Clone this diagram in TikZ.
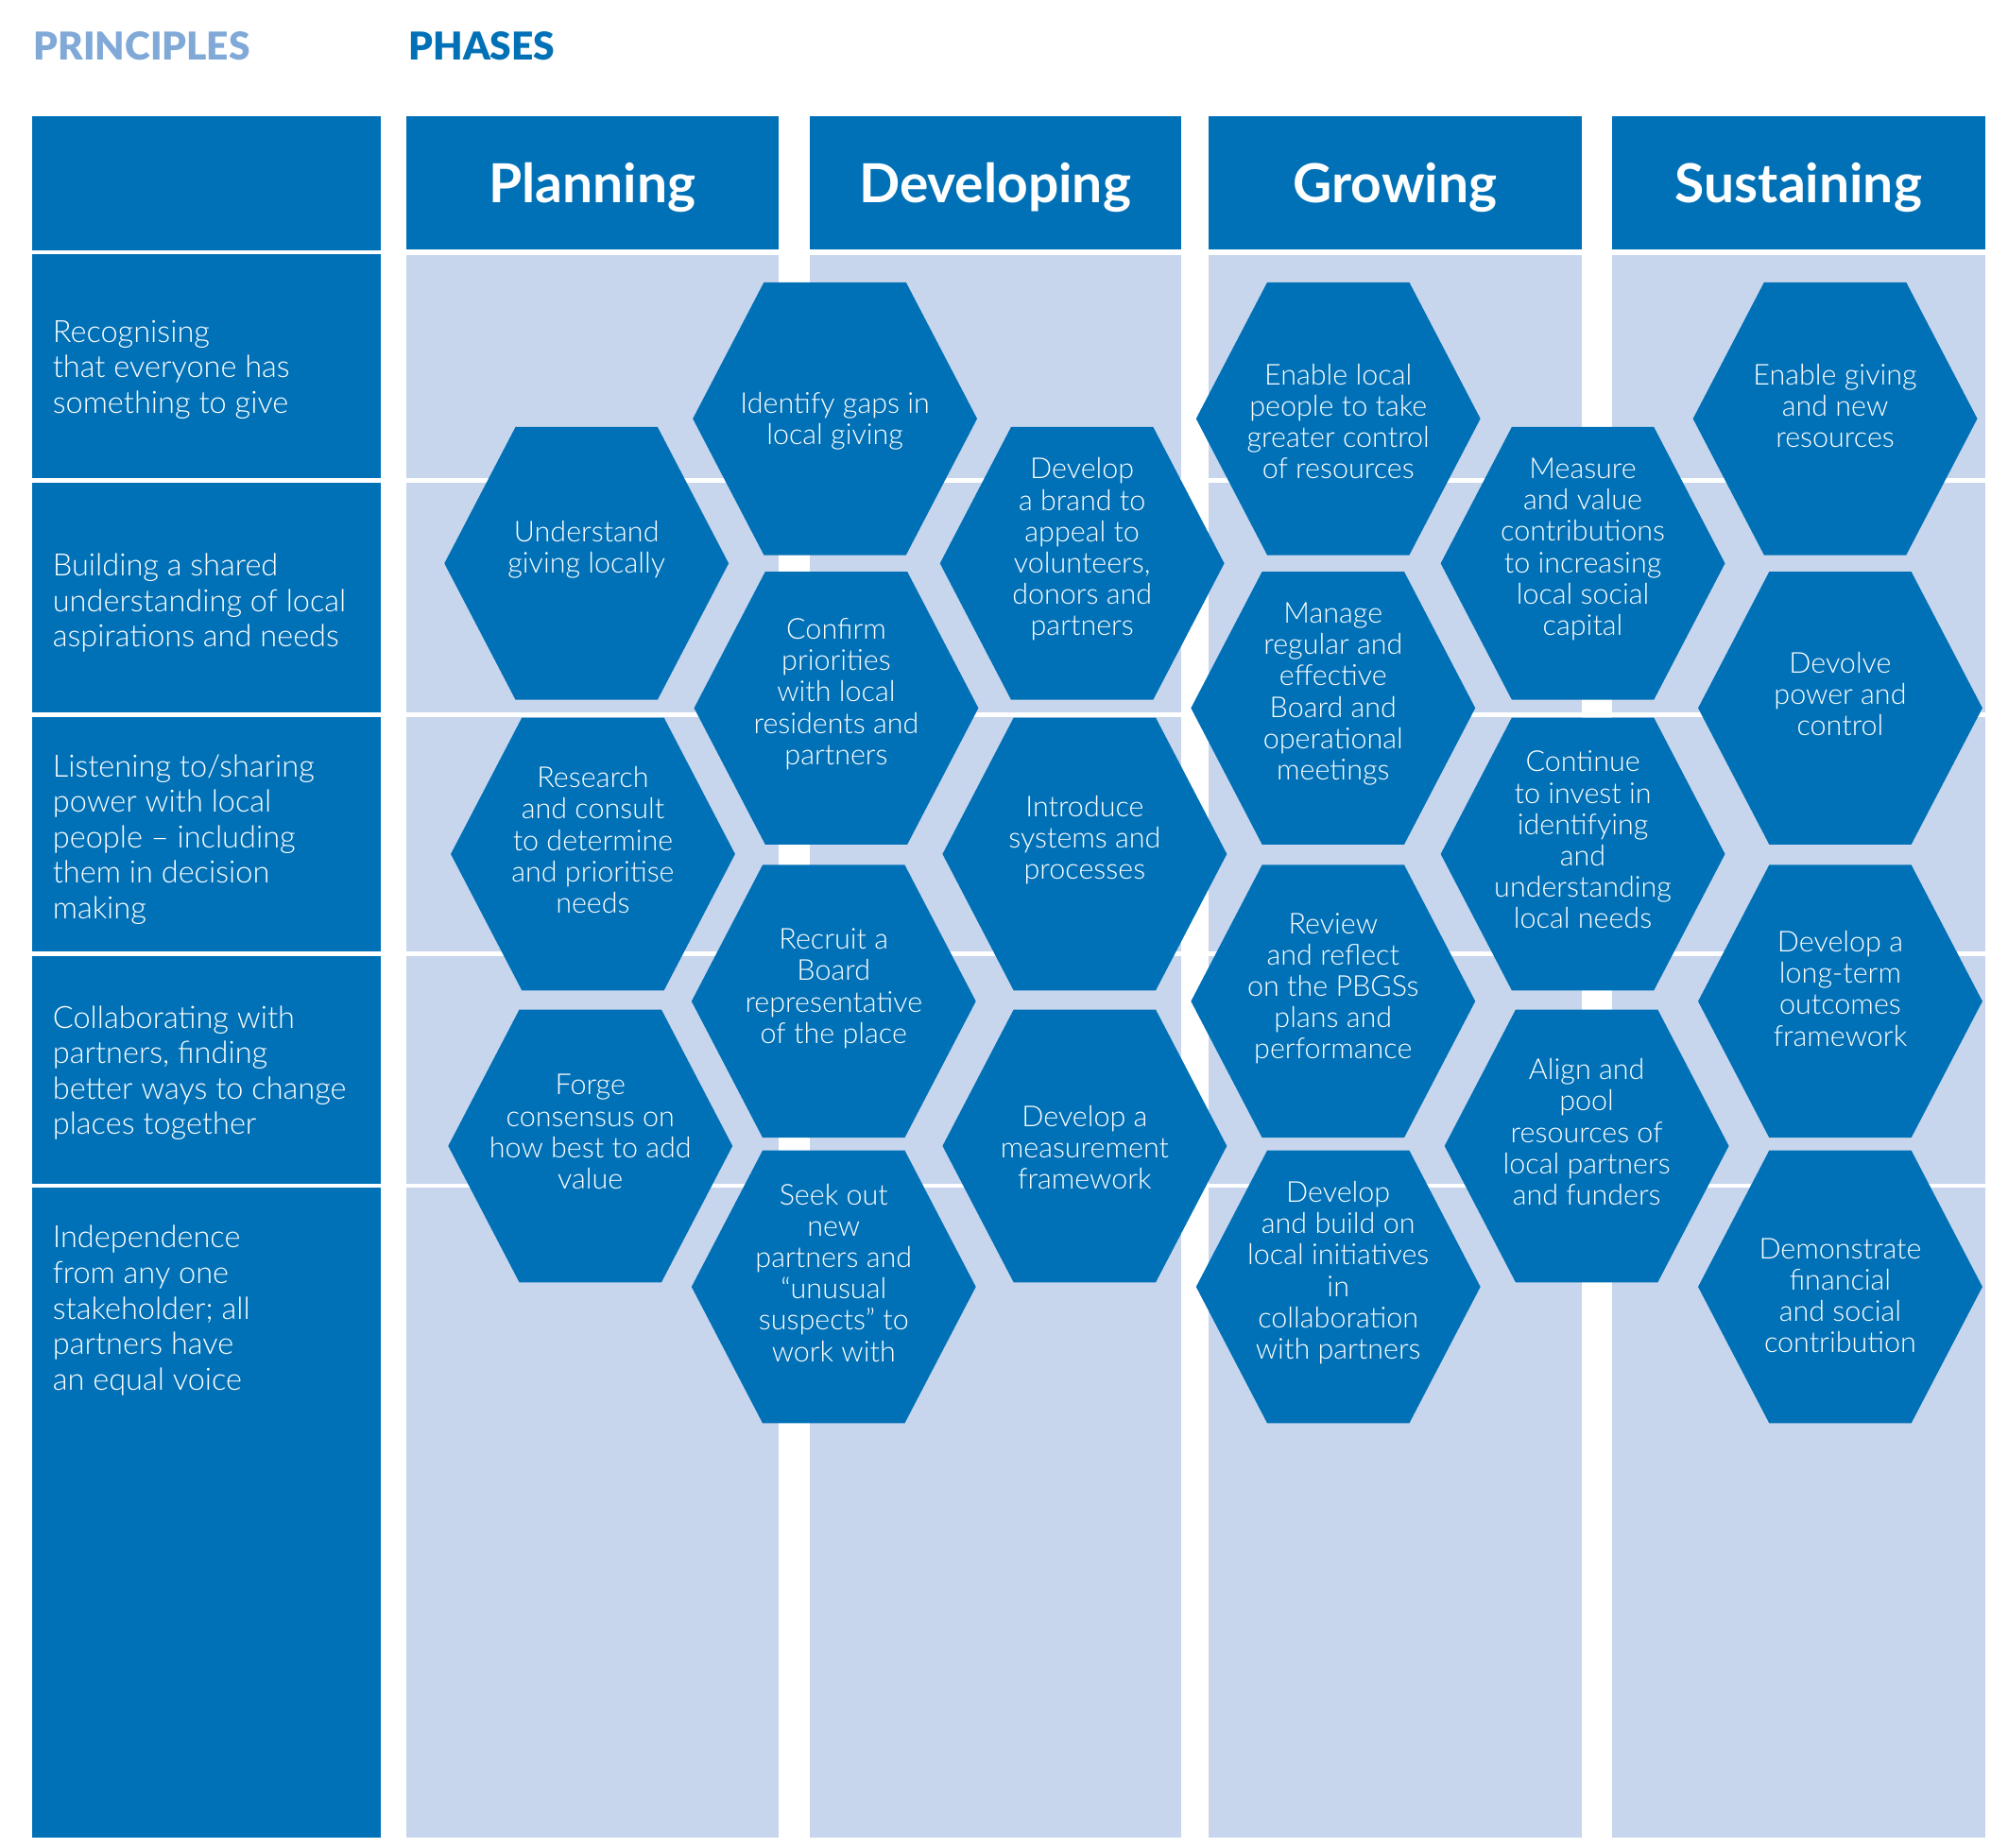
\documentclass[tikz,border=0pt]{standalone}
\usepackage{fontspec}
\setmainfont{Lato}
\newfontfamily\lightfont{Lato Light}
\newfontfamily\blackfont{Lato Black}
\usepackage{tikz}
\usetikzlibrary{positioning}
\definecolor{hexblue}{RGB}{1,113,183}
\definecolor{bandblue}{RGB}{199,214,236}
\definecolor{paleblue}{RGB}{129,169,216}
\tikzset{
  pics/hexcell/.style={code={\fill[hexblue] (-111,0) -- (-55.5,-106.5) -- (55.5,-106.5) -- (111,0) -- (55.5,106.5) -- (-55.5,106.5) -- cycle;}}
}

\begin{document}
\begin{tikzpicture}[x=1pt,y=-1pt,every node/.style={inner sep=0pt,text=white},
  hextext/.style={align=center,font=\lightfont\fontsize{22.5}{24.5}\selectfont},
  principle/.style={anchor=west,align=left,font=\lightfont\fontsize{24}{27.7}\selectfont},
  phasehead/.style={fill=hexblue,minimum width=291pt,minimum height=104pt,text height=30pt,text depth=0pt,font=\bfseries\fontsize{42}{50}\selectfont},
  title/.style={anchor=base west,font=\blackfont\fontsize{30}{36}\selectfont}]
\useasboundingbox (0,0) rectangle (1568,1443);
% titles
\node[title,text=paleblue] (principles) at (26,47) {PRINCIPLES};
\node[title,text=hexblue] (phases) at (319,47) {PHASES};
% columns
\fill[hexblue] (25,91) rectangle (297,1435);
\fill[bandblue] (317,199) rectangle (608,1435);
\fill[bandblue] (632,199) rectangle (922,1435);
\fill[bandblue] (944,199) rectangle (1235,1435);
\fill[bandblue] (1259,199) rectangle (1550,1435);
\node[phasehead] (planning) at (462.5,143) {Planning};
\node[phasehead,minimum width=290pt] (developing) at (777,143) {Developing};
\node[phasehead] (growing) at (1089.5,143) {Growing};
\node[phasehead] (sustaining) at (1404.5,143) {Sustaining};
% row separators
\draw[white,line width=3.5pt] (25,197) -- (1550,197);
\draw[white,line width=3.5pt] (25,375) -- (1550,375);
\draw[white,line width=3.5pt] (25,558) -- (1550,558);
\draw[white,line width=3.5pt] (25,745) -- (1550,745);
\draw[white,line width=3.5pt] (25,926) -- (1550,926);
% principles
\node[principle] (recognising) at (41,288.5) {Recognising\\that everyone has\\something to give};
\node[principle] (shared) at (41,471) {Building a shared\\understanding of local\\aspirations and needs};
\node[principle] (listening) at (41,655.5) {Listening to/sharing\\power with local\\people – including\\them in decision\\making};
\node[principle] (collaborating) at (41,838) {Collaborating with\\partners, finding\\better ways to change\\places together};
\node[principle] (independence) at (41,1023.5) {Independence\\from any one\\stakeholder; all\\partners have\\an equal voice};
% planning
\pic at (458,440) {hexcell};
\node[hextext] (understand) at (458,429) {Understand\\giving locally};
\pic at (463,667) {hexcell};
\node[hextext] (research) at (463,656) {Research\\and consult\\to determine\\and prioritise\\needs};
\pic at (461,895) {hexcell};
\node[hextext] (forge) at (461,884) {Forge\\consensus on\\how best to add\\value};
% planning / developing
\pic at (652,327) {hexcell};
\node[hextext] (gaps) at (652,329) {Identify gaps in\\local giving};
\pic at (653,553) {hexcell};
\node[hextext] (confirm) at (653,542) {Confirm\\priorities\\with local\\residents and\\partners};
\pic at (651,782) {hexcell};
\node[hextext] (recruit) at (651,772) {Recruit a\\Board\\representative\\of the place};
\pic at (651,1005) {hexcell};
\node[hextext] (seek) at (651,994) {Seek out\\new\\partners and\\“unusual\\suspects” to\\work with};
% developing
\pic at (845,440) {hexcell};
\node[hextext] (brand) at (845,429) {Develop\\a brand to\\appeal to\\volunteers,\\donors and\\partners};
\pic at (847,667) {hexcell};
\node[hextext] (systems) at (847,656) {Introduce\\systems and\\processes};
\pic at (847,895) {hexcell};
\node[hextext] (measurement) at (847,896) {Develop a\\measurement\\framework};
% growing
\pic at (1045,327) {hexcell};
\node[hextext] (control) at (1045,329) {Enable local\\people to take\\greater control\\of resources};
\pic at (1041,553) {hexcell};
\node[hextext] (meetings) at (1041,542) {Manage\\regular and\\effective\\Board and\\operational\\meetings};
\pic at (1041,782) {hexcell};
\node[hextext] (review) at (1041,772) {Review\\and reflect\\on the PBGSs\\plans and\\performance};
\pic at (1045,1005) {hexcell};
\node[hextext] (initiatives) at (1045,994) {Develop\\and build on\\local initiatives\\in\\collaboration\\with partners};
% growing / sustaining
\pic at (1236,440) {hexcell};
\node[hextext] (capital) at (1236,429) {Measure\\and value\\contributions\\to increasing\\local social\\capital};
\pic at (1236,667) {hexcell};
\node[hextext] (needs) at (1236,656) {Continue\\to invest in\\identifying\\and\\understanding\\local needs};
\pic at (1239,895) {hexcell};
\node[hextext] (align) at (1239,884) {Align and\\pool\\resources of\\local partners\\and funders};
% sustaining
\pic at (1433,327) {hexcell};
\node[hextext] (giving) at (1433,317) {Enable giving\\and new\\resources};
\pic at (1437,553) {hexcell};
\node[hextext] (devolve) at (1437,542) {Devolve\\power and\\control};
\pic at (1437,782) {hexcell};
\node[hextext] (outcomes) at (1437,772) {Develop a\\long-term\\outcomes\\framework};
\pic at (1437,1005) {hexcell};
\node[hextext] (contribution) at (1437,1012) {Demonstrate\\financial\\and social\\contribution};
\end{tikzpicture}
\end{document}
